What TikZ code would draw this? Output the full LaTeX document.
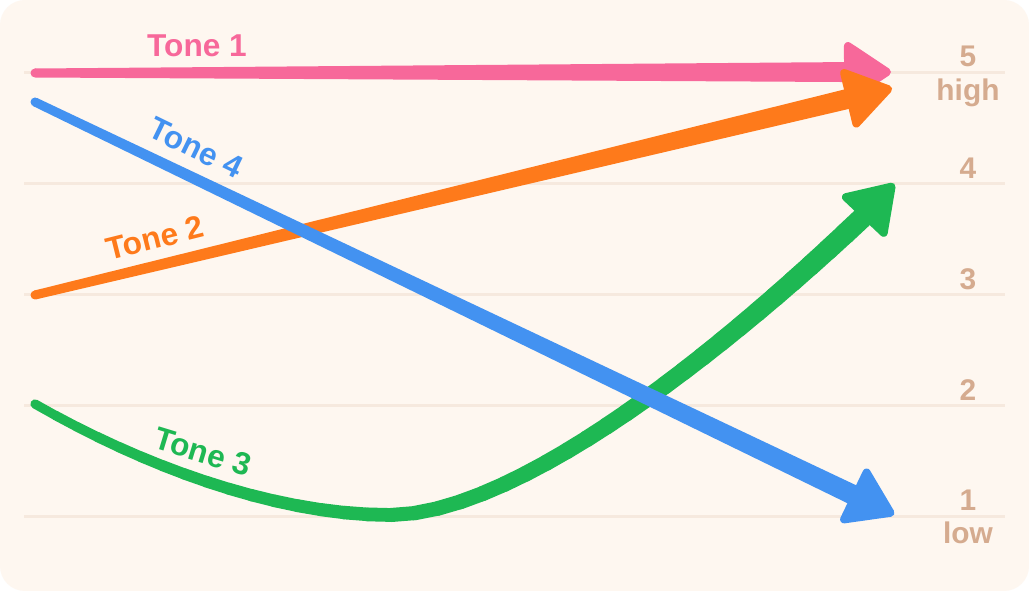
\documentclass[tikz,border=0pt]{standalone}
\usepackage{fontspec}
\setmainfont{Liberation Sans}
\usepackage{tikz}
\usetikzlibrary{calc,positioning,decorations.markings}

\definecolor{ToneBg}{HTML}{FEF7F0}
\definecolor{ToneGrid}{HTML}{F6E9DE}
\definecolor{ToneTan}{HTML}{D5AB8F}
\definecolor{TonePink}{HTML}{F7689A}
\definecolor{ToneOrange}{HTML}{FE7A1B}
\definecolor{ToneGreen}{HTML}{1EB853}
\definecolor{ToneBlue}{HTML}{4392F1}

\begin{document}
\begin{tikzpicture}[x=0.02cm,y=-0.02cm]

  % Parameters
  \def\wstart{0.09cm}
  \def\wend{0.2cm}
  \def\headlen{0.88cm}
  \def\headwid{0.52cm}

  % Styles
  \tikzstyle{every node}=[inner sep=0pt]
  \tikzstyle{grid}=[ToneGrid,line width=0.06cm]
  \tikzstyle{level}=[text=ToneTan,font=\fontsize{17}{19}\selectfont\bfseries]
  \tikzstyle{tone}=[font=\fontsize{18}{20}\selectfont\bfseries]
  \tikzstyle{head}=[line width=0.16cm,line join=round]

  % \tonehead{<id>}{<colour>}{<from>}{<tip>}
  \newcommand{\tonehead}[4]{%
    \coordinate (#1-hb) at ($(#4)!\headlen!(#3)$);
    \filldraw[head,#2] ($(#4)!0.1cm!(#3)$) -- ($(#1-hb)!\headwid!90:(#4)$)
      -- ($(#1-hb)!\headwid!-90:(#4)$) -- cycle;
  }

  % \tonearrow{<id>}{<colour>}{<start>}{<tip>}
  \newcommand{\tonearrow}[4]{%
    \coordinate (#1-sb) at ($(#4)!\headlen!(#3)$);
    \fill[#2] ($(#3)!\wstart!90:(#4)$) -- ($(#1-sb)!\wend!-90:(#3)$)
      -- ($(#1-sb)!\wend!90:(#3)$) -- ($(#3)!\wstart!-90:(#4)$) -- cycle;
    \fill[#2] (#3) circle[radius=\wstart];
    \tonehead{#1}{#2}{#3}{#4}
  }

  % ===========================================================================

  % Background
  \useasboundingbox (0,0) rectangle (1029,591);
  \fill[white] (0,0) rectangle (1029,591);
  \fill[ToneBg,rounded corners=0.5cm] (0,0) rectangle (1029,591);

  % Draw levels
  \foreach \y in {73,184,295,406,517}
    \draw[grid] (24,\y) -- (1005,\y);

  \node[level] (lvl-5) at (968,56) {5};
  \node[level,below=0.24cm of lvl-5] (lvl-high) {high};
  \node[level] (lvl-4) at (968,168) {4};
  \node[level] (lvl-3) at (968,279) {3};
  \node[level] (lvl-2) at (968,390) {2};
  \node[level] (lvl-1) at (968,500) {1};
  \node[level,below=0.22cm of lvl-1] (lvl-low) {low};

  % Points
  \coordinate (t1-start) at (35,73);
  \coordinate (t1-tip) at (892,72);
  \coordinate (t2-start) at (35,295);
  \coordinate (t2-tip) at (893,88);
  \coordinate (t4-start) at (35,102);
  \coordinate (t4-tip) at (895,515);
  \coordinate (t3-start) at (35,404);
  \coordinate (t3-low) at (390,515);
  \coordinate (t3-end) at (862,218);
  \coordinate (t3-tip) at (895,183);

  % Draw tones
  \tonearrow{t1}{TonePink}{t1-start}{t1-tip}
  \tonearrow{t2}{ToneOrange}{t2-start}{t2-tip}

  \path[decorate,decoration={markings,
      mark=between positions 0 and 1 step 0.025 with
      {\coordinate (g-\pgfkeysvalueof{/pgf/decoration/mark info/sequence number});}}]
    (t3-start) .. controls (150,470) and (280,515) .. (t3-low)
    .. controls (500,515) and (680,390) .. (t3-end);
  \foreach \i [evaluate=\i as \j using int(\i+1),
               evaluate=\i as \w using 0.18+0.24*\i/40] in {1,...,39}
    \draw[ToneGreen,line width=\w cm,line cap=round] (g-\i) -- (g-\j);
  \draw[ToneGreen,line width=0.42cm,line cap=round] (g-40) -- (t3-end);
  \tonehead{t3}{ToneGreen}{t3-end}{t3-tip}

  \tonearrow{t4}{ToneBlue}{t4-start}{t4-tip}

  % Labels
  \node[tone,text=TonePink] (lbl-t1) at (197,46) {Tone 1};
  \node[tone,text=ToneBlue,rotate=-26] (lbl-t4) at (196,148) {Tone 4};
  \node[tone,text=ToneOrange,rotate=14] (lbl-t2) at (155,238) {Tone 2};
  \node[tone,text=ToneGreen,rotate=-17] (lbl-t3) at (203,452) {Tone 3};

\end{tikzpicture}
\end{document}
